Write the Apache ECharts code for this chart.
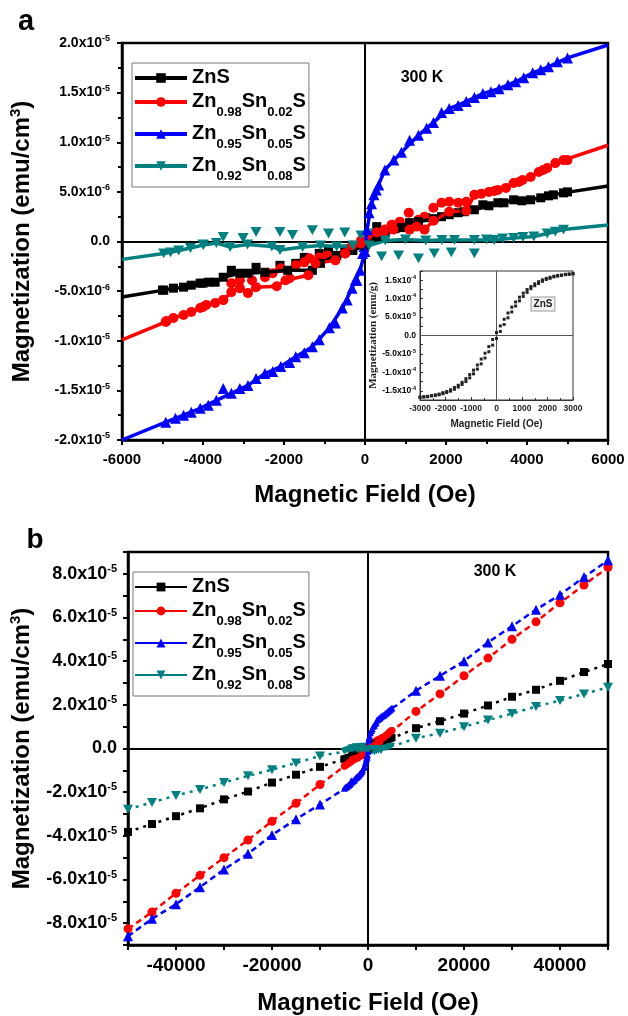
<!DOCTYPE html>
<html><head><meta charset="utf-8">
<script src="https://cdn.jsdelivr.net/npm/echarts@6/dist/echarts.min.js"></script>
<style>html,body{margin:0;padding:0;background:#fff}#c{width:628px;height:1016px}</style>
</head><body><div id="c"></div>
<script>
const FONT = '"Liberation Sans", Arial, sans-serif';
const SERIF = '"Liberation Serif", "Times New Roman", serif';

// ---------------- DATA ----------------
const sampleNames = ['ZnS', 'Zn0.98Sn0.02S', 'Zn0.95Sn0.05S', 'Zn0.92Sn0.08S'];
const legendRich = ['{n|ZnS}', '{n|Zn}{s|0.98}{n|Sn}{s|0.02}{n|S}', '{n|Zn}{s|0.95}{n|Sn}{s|0.05}{n|S}', '{n|Zn}{s|0.92}{n|Sn}{s|0.08}{n|S}'];
const temperatureText = '300 K';

// panel a: low-field loops [H (Oe), M (emu/cm3)], ascending branch (ends at +-6000 are the drawn line ends)
const znsAsc = [[-6000,-5.6e-6],[-4970,-4.9e-6],[-4730,-4.7e-6],[-4480,-4.6e-6],[-4290,-4.4e-6],[-4070,-4.2e-6],[-3870,-4.1e-6],[-3700,-4.1e-6],[-3500,-3.6e-6],[-3090,-3.2e-6],[-2890,-3.2e-6],[-2470,-3.1e-6],[-1910,-2.9e-6],[-1300,-2.9e-6],[-1100,-2.2e-6],[-700,-1.4e-6],[-300,-0.9e-6],[0,-0.4e-6],[300,0.5e-6],[500,0.9e-6],[900,1.4e-6],[1320,2.0e-6],[1700,2.3e-6],[2080,2.7e-6],[2450,3.0e-6],[2700,3.2e-6],[3060,3.6e-6],[3430,3.9e-6],[3670,4.2e-6],[4090,4.2e-6],[4340,4.4e-6],[4650,4.7e-6],[4900,4.9e-6],[6000,5.6e-6]];
const znsDesc = [[5000,5.0e-6],[4530,4.6e-6],[3870,4.1e-6],[3280,3.9e-6],[2910,3.7e-6],[2300,2.9e-6],[1890,2.5e-6],[1500,2.4e-6],[1100,1.9e-6],[740,1.3e-6],[290,1.5e-6],[100,0.6e-6],[-100,-0.3e-6],[-500,-0.8e-6],[-900,-1.0e-6],[-1130,-1.2e-6],[-1500,-1.6e-6],[-1710,-2.2e-6],[-2100,-2.4e-6],[-2690,-2.6e-6],[-3300,-2.9e-6],[-4000,-4.2e-6],[-5000,-4.9e-6]];
const sn2Asc = [[-6000,-9.9e-6],[-4920,-8.1e-6],[-4730,-7.7e-6],[-4480,-7.4e-6],[-4290,-7.1e-6],[-4070,-6.7e-6],[-3920,-6.4e-6],[-3700,-6.2e-6],[-3500,-5.9e-6],[-3300,-5.1e-6],[-3090,-4.7e-6],[-2890,-5.2e-6],[-2690,-4.6e-6],[-2180,-4.5e-6],[-1960,-3.9e-6],[-1400,-3.4e-6],[-1220,-2.2e-6],[-730,-1.9e-6],[-490,-1.2e-6],[-320,-0.4e-6],[-100,-0.2e-6],[290,0.9e-6],[465,0.95e-6],[700,1.2e-6],[1100,1.2e-6],[1270,1.5e-6],[1470,1.2e-6],[1690,2.1e-6],[2080,3.0e-6],[2500,3.1e-6],[2700,4.7e-6],[2870,4.8e-6],[3060,5.0e-6],[3280,5.2e-6],[3480,5.4e-6],[3670,5.9e-6],[3890,6.2e-6],[4090,6.5e-6],[4290,7.0e-6],[4500,7.4e-6],[4700,7.9e-6],[4900,8.2e-6],[6000,9.7e-6]];
const sn2Desc = [[5000,8.2e-6],[4400,7.2e-6],[3800,6.0e-6],[3200,5.1e-6],[2500,4.0e-6],[2300,3.9e-6],[2080,4.0e-6],[1890,3.9e-6],[1690,3.4e-6],[1470,2.5e-6],[1320,2.2e-6],[1080,2.9e-6],[860,2.0e-6],[660,1.7e-6],[490,1.2e-6],[290,0.9e-6],[100,0.4e-6],[-100,0.1e-6],[-300,-0.5e-6],[-490,-1.2e-6],[-930,-1.4e-6],[-1130,-1.6e-6],[-1370,-1.7e-6],[-1500,-2.1e-6],[-1710,-2.4e-6],[-1860,-3.7e-6],[-2080,-2.7e-6],[-2280,-3.2e-6],[-2470,-3.6e-6],[-2790,-3.9e-6],[-3090,-3.9e-6],[-3300,-4.2e-6],[-3500,-5.9e-6],[-4000,-6.6e-6],[-4900,-8.0e-6]];
const sn5Asc = [[-6000,-2.0e-5],[-4920,-1.82e-5],[-4480,-1.75e-5],[-4070,-1.68e-5],[-3670,-1.60e-5],[-3300,-1.53e-5],[-2890,-1.45e-5],[-2470,-1.33e-5],[-2080,-1.26e-5],[-1710,-1.16e-5],[-1300,-1.06e-5],[-880,-0.87e-5],[-560,-0.67e-5],[-320,-0.47e-5],[-120,-0.29e-5],[0,-0.10e-5],[50,0.12e-5],[160,0.38e-5],[280,0.52e-5],[490,0.72e-5],[900,0.90e-5],[1320,1.07e-5],[1690,1.20e-5],[2080,1.34e-5],[2500,1.41e-5],[2910,1.49e-5],[3310,1.54e-5],[3720,1.61e-5],[4140,1.70e-5],[4530,1.76e-5],[5000,1.85e-5],[6000,1.98e-5]];
const sn5Desc = [[4750,1.81e-5],[4340,1.73e-5],[3920,1.65e-5],[3530,1.58e-5],[3110,1.51e-5],[2700,1.45e-5],[2300,1.37e-5],[1890,1.30e-5],[1520,1.14e-5],[1100,1.02e-5],[710,0.82e-5],[340,0.57e-5],[220,0.47e-5],[100,0.29e-5],[-25,-0.05e-5],[-60,-0.12e-5],[-200,-0.39e-5],[-240,-0.39e-5],[-440,-0.59e-5],[-730,-0.82e-5],[-1130,-0.99e-5],[-1500,-1.12e-5],[-1860,-1.22e-5],[-2280,-1.31e-5],[-2690,-1.38e-5],[-3090,-1.48e-5],[-3500,-1.48e-5],[-3870,-1.65e-5],[-4290,-1.72e-5],[-4680,-1.78e-5]];
const sn8Asc = [[-6000,-1.8e-6],[-4970,-1.2e-6],[-4600,-0.9e-6],[-4310,-0.65e-6],[-3990,-0.35e-6],[-3670,-0.15e-6],[-3330,-0.55e-6],[-2900,-0.3e-6],[-2300,-0.5e-6],[-2100,-0.85e-6],[-1540,-0.55e-6],[-1100,-0.4e-6],[-700,-0.5e-6],[-300,-0.4e-6],[100,-0.4e-6],[500,0.1e-6],[1000,0.2e-6],[1500,0.1e-6],[1900,0.15e-6],[2210,0.15e-6],[2700,0.15e-6],[3190,0.15e-6],[3670,0.35e-6],[4170,0.5e-6],[4500,0.8e-6],[4900,1.2e-6],[6000,1.66e-6]];
const sn8Desc = [[4700,1.0e-6],[3900,0.45e-6],[3400,0.3e-6],[3000,0.2e-6],[2700,-1.2e-6],[2130,-1.1e-6],[1710,-1.2e-6],[1320,-1.7e-6],[830,-1.4e-6],[410,-1.5e-6],[250,0.8e-6],[-100,0.6e-6],[-500,0.9e-6],[-900,0.8e-6],[-1300,1.15e-6],[-1790,0.65e-6],[-2100,0.95e-6],[-2690,0.95e-6],[-3010,0.35e-6],[-3500,0.45e-6],[-4000,-0.3e-6],[-4800,-1.1e-6]];

// panel b: high-field points
const highField = [-50000,-45000,-40000,-35000,-30000,-25000,-20000,-15000,-10000,10000,15000,20000,25000,30000,35000,40000,45000,50000];
const znsHigh = [-3.82e-5,-3.46e-5,-3.10e-5,-2.74e-5,-2.33e-5,-1.97e-5,-1.56e-5,-1.20e-5,-0.84e-5,0.93e-5,1.25e-5,1.60e-5,1.97e-5,2.37e-5,2.69e-5,3.10e-5,3.50e-5,3.87e-5];
const sn2High = [-8.26e-5,-7.49e-5,-6.63e-5,-5.81e-5,-5.00e-5,-4.19e-5,-3.33e-5,-2.51e-5,-1.65e-5,1.70e-5,2.50e-5,3.33e-5,4.14e-5,5.00e-5,5.80e-5,6.67e-5,7.49e-5,8.30e-5];
const sn5High = [-8.60e-5,-7.80e-5,-7.13e-5,-6.35e-5,-5.54e-5,-4.82e-5,-3.96e-5,-3.24e-5,-2.56e-5,2.65e-5,3.33e-5,4.00e-5,4.86e-5,5.60e-5,6.36e-5,7.04e-5,7.85e-5,8.62e-5];
const sn8High = [-2.78e-5,-2.47e-5,-2.15e-5,-1.88e-5,-1.56e-5,-1.25e-5,-0.97e-5,-0.66e-5,-0.34e-5,0.47e-5,0.70e-5,1.00e-5,1.30e-5,1.60e-5,1.92e-5,2.20e-5,2.50e-5,2.80e-5];

// inset (ZnS, emu/g)
const insetField = [-3000,-2850,-2700,-2550,-2400,-2250,-2100,-1950,-1800,-1650,-1500,-1350,-1200,-1050,-900,-750,-600,-450,-300,-150,0,150,300,450,600,750,900,1050,1200,1350,1500,1650,1800,1950,2100,2250,2400,2550,2700,2850,3000];
const insetLower = [-1.68e-4,-1.67e-4,-1.66e-4,-1.64e-4,-1.63e-4,-1.61e-4,-1.58e-4,-1.55e-4,-1.51e-4,-1.46e-4,-1.40e-4,-1.33e-4,-1.25e-4,-1.15e-4,-1.04e-4,-0.91e-4,-0.77e-4,-0.61e-4,-0.44e-4,-0.26e-4,-0.08e-4,0.11e-4,0.30e-4,0.48e-4,0.64e-4,0.80e-4,0.94e-4,1.06e-4,1.17e-4,1.27e-4,1.35e-4,1.41e-4,1.47e-4,1.52e-4,1.55e-4,1.59e-4,1.61e-4,1.63e-4,1.65e-4,1.66e-4,1.67e-4];
const insetUpper = [-1.67e-4,-1.66e-4,-1.65e-4,-1.63e-4,-1.61e-4,-1.59e-4,-1.55e-4,-1.52e-4,-1.47e-4,-1.41e-4,-1.35e-4,-1.27e-4,-1.17e-4,-1.06e-4,-0.94e-4,-0.80e-4,-0.64e-4,-0.48e-4,-0.30e-4,-0.11e-4,0.08e-4,0.26e-4,0.44e-4,0.61e-4,0.77e-4,0.91e-4,1.04e-4,1.15e-4,1.25e-4,1.33e-4,1.40e-4,1.46e-4,1.51e-4,1.55e-4,1.58e-4,1.61e-4,1.63e-4,1.64e-4,1.66e-4,1.67e-4,1.68e-4];

// tick labels
const aXTicks = [-6000,-4000,-2000,0,2000,4000,6000];
const aXTickText = ['-6000','-4000','-2000','0','2000','4000','6000'];
const aYTicks = [-2e-5,-1.5e-5,-1e-5,-5e-6,0,5e-6,1e-5,1.5e-5,2e-5];
const aYTickText = ['-2.0x10^-5','-1.5x10^-5','-1.0x10^-5','-5.0x10^-6','0.0','5.0x10^-6','1.0x10^-5','1.5x10^-5','2.0x10^-5'];
const bXTicks = [-40000,-20000,0,20000,40000];
const bXTickText = ['-40000','-20000','0','20000','40000'];
const bYTicks = [-8e-5,-6e-5,-4e-5,-2e-5,0,2e-5,4e-5,6e-5,8e-5];
const bYTickText = ['-8.0x10^-5','-6.0x10^-5','-4.0x10^-5','-2.0x10^-5','0.0','2.0x10^-5','4.0x10^-5','6.0x10^-5','8.0x10^-5'];
const inXTicks = [-3000,-2000,-1000,0,1000,2000,3000];
const inXTickText = ['-3000','-2000','-1000','0','1000','2000','3000'];
const inYTicks = [-1.5e-4,-1e-4,-5e-5,0,5e-5,1e-4,1.5e-4];
const inYTickText = ['-1.5x10^-4','-1.0x10^-4','-5.0x10^-5','0.0','5.0x10^-5','1.0x10^-4','1.5x10^-4'];

// ---------------- STYLE ----------------
const COLORS = ['#000000','#ff0000','#0000ff','#008080'];
const SYMBOLS = ['rect','circle','triangle','path://M0,0L10,0L5,9Z'];
const SIZE_A = [9,10,11,11];
const SIZE_B = [8,9,10,10];
const DASH_B = [[3,5],[6,4],[6,4],[3,5]];

function labeler(ticks, texts, tol) {
  return function (v) {
    const i = ticks.findIndex(t => Math.abs(t - v) < tol);
    if (i < 0) return '';
    const parts = texts[i].split('^');
    return parts.length > 1 ? '{m|' + parts[0] + '}{s|' + parts[1] + '}' : '{m|' + parts[0] + '}';
  };
}
function sciRich(fs, ss) {
  return {
    m: {fontFamily: FONT, fontWeight: 'bold', fontSize: fs, lineHeight: fs + 3, color: '#000'},
    s: {fontFamily: FONT, fontWeight: 'bold', fontSize: ss, lineHeight: ss, verticalAlign: 'top', color: '#000'}
  };
}
const legendTextRich = {
  n: {fontFamily: FONT, fontWeight: 'bold', fontSize: 20, lineHeight: 22, verticalAlign: 'top', color: '#000'},
  s: {fontFamily: FONT, fontWeight: 'bold', fontSize: 13, lineHeight: 13, verticalAlign: 'top', padding: [15,0,0,0], color: '#000'}
};
const yNameRich = {
  t: {fontFamily: FONT, fontWeight: 'bold', fontSize: 24, lineHeight: 28, color: '#000'},
  s: {fontFamily: FONT, fontWeight: 'bold', fontSize: 15, lineHeight: 15, verticalAlign: 'top', color: '#000'}
};
const yName = '{t|Magnetization (emu/cm}{s|3}{t|)}';

const axisLineBlack = {show: true, onZero: false, lineStyle: {color: '#000', width: 2.5}};

const zeroLine = (color, width) => ({
  silent: true, symbol: ['none','none'], z: 1, animation: false,
  label: {show: false}, lineStyle: {color: color, width: width, type: 'solid'},
  emphasis: {disabled: true},
  data: [{xAxis: 0}, {yAxis: 0}]
});

const series = [];
const ascA = [znsAsc, sn2Asc, sn5Asc, sn8Asc];
const descA = [znsDesc, sn2Desc, sn5Desc, sn8Desc];
const highB = [znsHigh, sn2High, sn5High, sn8High];

// panel a
for (let i = 0; i < 4; i++) {
  series.push({
    type: 'line', name: 'a' + i, xAxisIndex: 0, yAxisIndex: 0,
    data: ascA[i], symbol: SYMBOLS[i], symbolKeepAspect: true, showAllSymbol: true,
    symbolSize: (v => Math.abs(v[0]) >= 6000 ? 0 : SIZE_A[i]),
    lineStyle: {color: COLORS[i], width: 3.5}, itemStyle: {color: COLORS[i]},
    animation: false, markLine: i === 0 ? zeroLine('#000', 2) : undefined
  });
  series.push({
    type: 'scatter', name: 'a' + i + 'r', xAxisIndex: 0, yAxisIndex: 0,
    data: descA[i], symbol: SYMBOLS[i], symbolKeepAspect: true, symbolSize: SIZE_A[i],
    itemStyle: {color: COLORS[i], opacity: 1}, animation: false
  });
}
// panel b
for (let i = 0; i < 4; i++) {
  const neg = highField.slice(0, 9).map((h, k) => [h, highB[i][k]]);
  const pos = highField.slice(9).map((h, k) => [h, highB[i][k + 9]]);
  series.push({
    type: 'line', name: 'b' + i, xAxisIndex: 1, yAxisIndex: 1,
    data: neg.concat(ascA[i], pos), symbol: SYMBOLS[i], symbolKeepAspect: true, showAllSymbol: true,
    symbolSize: (v => Math.abs(v[0]) >= 9000 ? SIZE_B[i] : (Math.abs(v[0]) >= 6000 ? 0 : 7)),
    lineStyle: {color: COLORS[i], width: 2.5, type: DASH_B[i]}, itemStyle: {color: COLORS[i]},
    animation: false, markLine: i === 0 ? zeroLine('#000', 2) : undefined
  });
  series.push({
    type: 'scatter', name: 'b' + i + 'r', xAxisIndex: 1, yAxisIndex: 1,
    data: descA[i], symbol: SYMBOLS[i], symbolKeepAspect: true, symbolSize: 7,
    itemStyle: {color: COLORS[i], opacity: 1}, animation: false
  });
}
// inset
series.push({
  type: 'scatter', name: 'inset', xAxisIndex: 2, yAxisIndex: 2, z: 4,
  data: insetField.map((h, k) => [h, insetLower[k]]).concat(insetField.map((h, k) => [h, insetUpper[k]])),
  symbol: 'rect', symbolSize: 3, itemStyle: {color: '#222', opacity: 1}, animation: false,
  markLine: zeroLine('#555', 1)
});

const legendBase = {
  orient: 'vertical', itemWidth: 52, itemGap: 4, padding: [4,3,4,1],
  borderColor: '#777', borderWidth: 1, backgroundColor: '#fff', selectedMode: false,
  formatter: name => legendRich[+name.charAt(1)],
  textStyle: {rich: legendTextRich}
};

const option = {
  animation: false,
  backgroundColor: '#fff',
  grid: [
    {left: 118, top: 43, width: 490, height: 397, show: true, borderColor: '#000', borderWidth: 2.5},
    {left: 118, top: 552, width: 490, height: 396, show: true, borderColor: '#000', borderWidth: 2.5},
    {left: 420, top: 271, width: 153, height: 129, show: true, borderColor: '#333', borderWidth: 1, backgroundColor: '#fff'}
  ],
  xAxis: [
    {type: 'value', gridIndex: 0, min: -6000, max: 6000, interval: 2000,
     axisLine: axisLineBlack, axisTick: {length: 5, lineStyle: {width: 2, color: '#000'}},
     minorTick: {show: true, splitNumber: 2, length: 4, lineStyle: {width: 2, color: '#000'}},
     splitLine: {show: false}, minorSplitLine: {show: false},
     axisLabel: {margin: 12, formatter: v => { const i = aXTicks.indexOf(Math.round(v)); return i < 0 ? '' : aXTickText[i]; },
       fontFamily: FONT, fontWeight: 'bold', fontSize: 15, color: '#000'},
     name: 'Magnetic Field (Oe)', nameLocation: 'middle', nameGap: 43,
     nameTextStyle: {fontFamily: FONT, fontWeight: 'bold', fontSize: 24, color: '#000'}},
    {type: 'value', gridIndex: 1, min: -50000, max: 50000, interval: 10000,
     axisLine: axisLineBlack, axisTick: {length: 5, lineStyle: {width: 2, color: '#000'}},
     splitLine: {show: false},
     axisLabel: {margin: 11, formatter: v => { const i = bXTicks.indexOf(Math.round(v)); return i < 0 ? '' : bXTickText[i]; },
       fontFamily: FONT, fontWeight: 'bold', fontSize: 19, color: '#000'},
     name: 'Magnetic Field (Oe)', nameLocation: 'middle', nameGap: 46,
     nameTextStyle: {fontFamily: FONT, fontWeight: 'bold', fontSize: 24, color: '#000'}},
    {type: 'value', gridIndex: 2, min: -3000, max: 3000, interval: 1000,
     axisLine: {show: true, onZero: false, lineStyle: {color: '#333', width: 1}},
     axisTick: {inside: true, length: 3, lineStyle: {width: 1, color: '#333'}},
     minorTick: {show: true, splitNumber: 2, length: 2, lineStyle: {width: 1, color: '#333'}},
     splitLine: {show: false},
     axisLabel: {margin: 4, formatter: v => { const i = inXTicks.indexOf(Math.round(v)); return i < 0 ? '' : inXTickText[i]; },
       fontFamily: FONT, fontWeight: 'bold', fontSize: 8.5, color: '#222'},
     name: 'Magnetic Field (Oe)', nameLocation: 'middle', nameGap: 19,
     nameTextStyle: {fontFamily: FONT, fontWeight: 'bold', fontSize: 10, color: '#222'}}
  ],
  yAxis: [
    {type: 'value', gridIndex: 0, min: -2e-5, max: 2e-5, interval: 5e-6,
     axisLine: axisLineBlack, axisTick: {length: 5, lineStyle: {width: 2, color: '#000'}},
     minorTick: {show: true, splitNumber: 2, length: 4, lineStyle: {width: 2, color: '#000'}},
     splitLine: {show: false}, minorSplitLine: {show: false},
     axisLabel: {margin: 12, formatter: labeler(aYTicks, aYTickText, 1e-10), rich: sciRich(14, 9)},
     name: yName, nameLocation: 'middle', nameRotate: 90, nameGap: 86,
     nameTextStyle: {rich: yNameRich}},
    {type: 'value', gridIndex: 1, min: -9e-5, max: 9e-5, interval: 1e-5,
     axisLine: axisLineBlack, axisTick: {length: 5, lineStyle: {width: 2, color: '#000'}},
     splitLine: {show: false},
     axisLabel: {margin: 11, formatter: labeler(bYTicks, bYTickText, 1e-10), rich: sciRich(18, 11)},
     name: yName, nameLocation: 'middle', nameRotate: 90, nameGap: 92,
     nameTextStyle: {rich: yNameRich}},
    {type: 'value', gridIndex: 2, min: -1.75e-4, max: 1.75e-4, interval: 2.5e-5,
     axisLine: {show: true, onZero: false, lineStyle: {color: '#333', width: 1}},
     axisTick: {inside: true, length: 3, lineStyle: {width: 1, color: '#333'}},
     splitLine: {show: false},
     axisLabel: {margin: 4, formatter: labeler(inYTicks, inYTickText, 1e-10), rich: sciRich(8.5, 5.5)},
     name: 'Magnetization (emu/g)', nameLocation: 'middle', nameRotate: 90, nameGap: 38,
     nameTextStyle: {fontFamily: SERIF, fontWeight: 'bold', fontSize: 11, color: '#222'}}
  ],
  legend: [
    Object.assign({}, legendBase, {left: 132, top: 63, itemHeight: 12, data: ['a0','a1','a2','a3'], lineStyle: {width: 4}}),
    Object.assign({}, legendBase, {left: 133, top: 572, itemHeight: 11, data: ['b0','b1','b2','b3'], lineStyle: {width: 2, type: 'solid'}})
  ],
  graphic: [
    {type: 'text', x: 26, y: 22, style: {text: 'a', fill: '#000', font: 'bold 29px ' + FONT, align: 'center', verticalAlign: 'middle', textAlign: 'center', textVerticalAlign: 'middle'}},
    {type: 'text', x: 35, y: 540, style: {text: 'b', fill: '#000', font: 'bold 28px ' + FONT, align: 'center', verticalAlign: 'middle', textAlign: 'center', textVerticalAlign: 'middle'}},
    {type: 'text', x: 422, y: 78, style: {text: temperatureText, fill: '#000', font: 'bold 16px ' + FONT, align: 'center', verticalAlign: 'middle', textAlign: 'center', textVerticalAlign: 'middle'}},
    {type: 'text', x: 495, y: 572, style: {text: temperatureText, fill: '#000', font: 'bold 16px ' + FONT, align: 'center', verticalAlign: 'middle', textAlign: 'center', textVerticalAlign: 'middle'}},
    {type: 'text', x: 543, y: 304, z: 10, style: {text: sampleNames[0], fill: '#222', font: 'bold 10px ' + FONT, align: 'center', verticalAlign: 'middle', textAlign: 'center', textVerticalAlign: 'middle',
      backgroundColor: '#f2f2f2', borderColor: '#999', borderWidth: 1, padding: [2,2,1,2]}}
  ],
  series: series
};

const chart = echarts.init(document.getElementById('c'), null, {renderer: 'canvas', width: 628, height: 1016});
chart.setOption(option);
</script>
</body></html>
